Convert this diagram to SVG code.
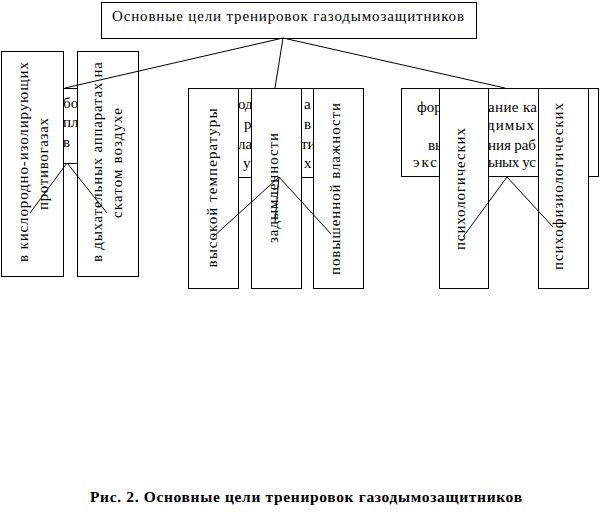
<svg xmlns="http://www.w3.org/2000/svg" width="602" height="514" viewBox="0 0 602 514">
<style>
.b{fill:#fff;stroke:#000;stroke-width:1}
.t{font-family:"Liberation Serif","Times New Roman",serif;font-size:15px;fill:#000}
.c{stroke:#000;stroke-width:1;fill:none}
.cap{font-family:"Liberation Serif","Times New Roman",serif;font-size:15.5px;font-weight:bold;fill:#000}
</style>
<rect width="602" height="514" fill="#fff"/>
<g id="root">
<rect class="b" x="101.5" y="2.5" width="375" height="36"/>
<text class="t" x="112" y="21" textLength="352" lengthAdjust="spacing">Основные цели тренировок газодымозащитников</text>
</g>
<g id="goal-1">
<rect class="b" x="40.5" y="88.5" width="60" height="75"/>
<text class="t" x="63" y="108">бо</text>
<text class="t" x="63" y="127">пл</text>
<text class="t" x="63" y="147">в</text>
</g>
<g id="goal-2">
<rect class="b" x="200.5" y="88.5" width="150" height="89"/>
<text class="t" x="238" y="109">од</text>
<text class="t" x="304" y="109">а</text>
<text class="t" x="244" y="129">р</text>
<text class="t" x="304" y="129">в</text>
<text class="t" x="238" y="148.5">ла</text>
<text class="t" x="301" y="148.5">ти</text>
<text class="t" x="243" y="168">у</text>
<text class="t" x="304" y="168">х</text>
</g>
<g id="goal-3">
<rect class="b" x="401.5" y="88.5" width="197" height="88"/>
<text class="t" x="417" y="112">форм</text>
<text class="t" x="488" y="112" textLength="49" lengthAdjust="spacing">ание ка</text>
<text class="t" x="487" y="130" textLength="47" lengthAdjust="spacing">димых</text>
<text class="t" x="428" y="149.5">вып</text>
<text class="t" x="488" y="149.5" textLength="48" lengthAdjust="spacing">ния раб</text>
<text class="t" x="413" y="167" textLength="24" lengthAdjust="spacing">экс</text>
<text class="t" x="488" y="167" textLength="48" lengthAdjust="spacing">ьных ус</text>
</g>
<g id="kislorod">
<rect class="b" x="1.5" y="51.5" width="62" height="225"/>
<text class="t" text-anchor="middle" transform="translate(27.5 162) rotate(-90)" textLength="200" lengthAdjust="spacing">в кислородно-изолирующих</text>
<text class="t" text-anchor="middle" transform="translate(47.5 164) rotate(-90)" textLength="92" lengthAdjust="spacing">противогазах</text>
</g>
<g id="dykhat">
<rect class="b" x="77.5" y="51.5" width="61" height="225"/>
<text class="t" text-anchor="middle" transform="translate(101.5 162) rotate(-90)" textLength="200" lengthAdjust="spacing">в дыхательных аппаратах на</text>
<text class="t" text-anchor="middle" transform="translate(121.5 163) rotate(-90)" textLength="110" lengthAdjust="spacing">скатом воздухе</text>
</g>
<g id="temp">
<rect class="b" x="188.5" y="88.5" width="50" height="200"/>
<text class="t" text-anchor="middle" transform="translate(216.5 188) rotate(-90)" textLength="159" lengthAdjust="spacing">высокой температуры</text>
</g>
<g id="dym">
<rect class="b" x="251.5" y="88.5" width="50" height="200"/>
<text class="t" text-anchor="middle" transform="translate(277.5 188) rotate(-90)" textLength="110" lengthAdjust="spacing">задымленности</text>
</g>
<g id="vlazh">
<rect class="b" x="313.5" y="88.5" width="50" height="200"/>
<text class="t" text-anchor="middle" transform="translate(339.5 189) rotate(-90)" textLength="172" lengthAdjust="spacing">повышенной влажности</text>
</g>
<g id="psikh">
<rect class="b" x="439.5" y="88.5" width="49" height="200"/>
<text class="t" text-anchor="middle" transform="translate(464.5 189) rotate(-90)" textLength="122" lengthAdjust="spacing">психологических</text>
</g>
<g id="psikhofiz">
<rect class="b" x="538.5" y="88.5" width="50" height="200"/>
<text class="t" text-anchor="middle" transform="translate(562.5 186.5) rotate(-90)" textLength="167" lengthAdjust="spacing">психофизиологических</text>
</g>
<g id="connectors">
<line class="c" x1="283" y1="38" x2="65" y2="88"/>
<line class="c" x1="283" y1="38" x2="275" y2="88"/>
<line class="c" x1="283" y1="38" x2="505" y2="88"/>
<line class="c" x1="67" y1="163" x2="30" y2="213"/>
<line class="c" x1="67" y1="163" x2="107" y2="213"/>
<line class="c" x1="279" y1="177" x2="213" y2="237"/>
<line class="c" x1="279" y1="177" x2="275" y2="222"/>
<line class="c" x1="279" y1="177" x2="331" y2="234"/>
<line class="c" x1="507" y1="177" x2="463" y2="237"/>
<line class="c" x1="507" y1="177" x2="553" y2="227"/>
</g>
<text class="cap" x="90" y="502" textLength="432" lengthAdjust="spacing">Рис. 2. Основные цели тренировок газодымозащитников</text>
</svg>
